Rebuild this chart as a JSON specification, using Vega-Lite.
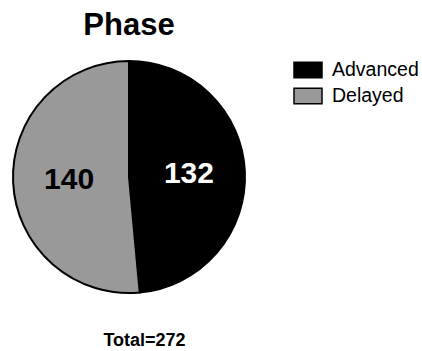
{
  "$schema": "https://vega.github.io/schema/vega-lite/v6.json",
  "background": "white",
  "padding": {"top": 10, "left": 0, "right": 0, "bottom": 0},
  "config": {
    "view": {"stroke": null},
    "font": "Liberation Sans"
  },
  "spacing": 24,
  "vconcat": [
    {
      "width": 258,
      "height": 234,
      "title": {
        "text": "Phase",
        "fontSize": 31,
        "font": "Liberation Sans",
        "fontWeight": "bold",
        "color": "black",
        "anchor": "middle",
        "offset": 15
      },
      "data": {
        "values": [
          {"phase": "Advanced", "count": 132},
          {"phase": "Delayed", "count": 140}
        ]
      },
      "encoding": {
        "theta": {"field": "count", "type": "quantitative", "stack": true}
      },
      "layer": [
        {
          "mark": {"type": "arc", "outerRadius": 116, "stroke": "black", "strokeWidth": 2},
          "encoding": {
            "color": {
              "field": "phase",
              "type": "nominal",
              "scale": {"domain": ["Advanced", "Delayed"], "range": ["#000000", "#999999"]},
              "legend": {
                "title": null,
                "orient": "none",
                "legendX": 293,
                "legendY": -5,
                "symbolType": "M-1,-0.55H1V0.55H-1Z",
                "symbolSize": 784,
                "symbolStrokeColor": "black",
                "symbolStrokeWidth": 1.5,
                "symbolOpacity": 1,
                "labelFontSize": 19.5,
                "labelFont": "Liberation Sans",
                "labelColor": "black",
                "labelOffset": 9,
                "rowPadding": -4,
                "padding": 0
              }
            }
          }
        },
        {
          "mark": {"type": "text", "radius": 60, "fontSize": 30, "fontWeight": "bold", "font": "Liberation Sans", "baseline": "middle", "align": "center"},
          "encoding": {
            "text": {"field": "count", "type": "quantitative"},
            "fill": {
              "field": "phase",
              "type": "nominal",
              "scale": {"domain": ["Advanced", "Delayed"], "range": ["#ffffff", "#000000"]},
              "legend": null
            }
          }
        }
      ]
    },
    {
      "width": 289,
      "height": 40,
      "data": {"values": [{"label": "Total=272"}]},
      "mark": {"type": "text", "fontSize": 18, "fontWeight": "bold", "font": "Liberation Sans", "color": "black", "baseline": "middle", "align": "center"},
      "encoding": {
        "text": {"field": "label", "type": "nominal"}
      }
    }
  ]
}
